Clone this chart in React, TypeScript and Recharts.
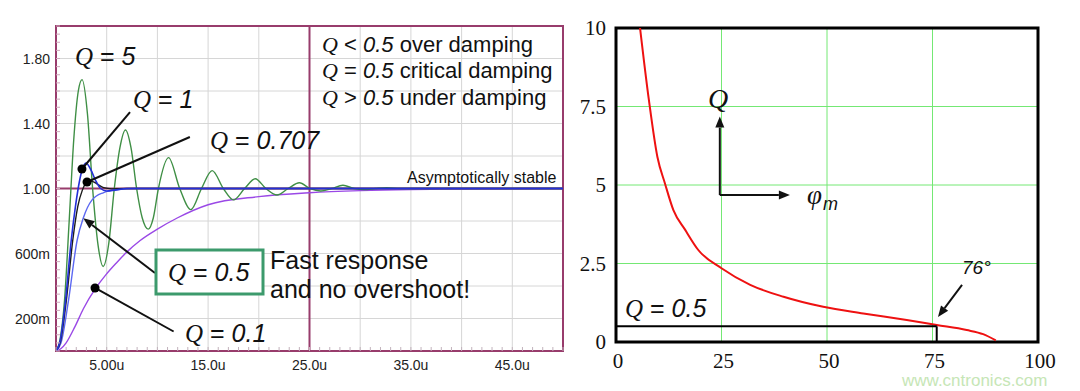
import React from 'react';
import { LineChart, Line, XAxis, YAxis, CartesianGrid, ReferenceLine, ReferenceDot, ReferenceArea } from 'recharts';

// step responses (time in µs, output in V)
const q5Time = [0, 0.4, 0.84, 1.3, 1.75, 2.2, 2.57, 3.1, 3.61, 4.15, 4.65, 5.2, 5.75, 6.3, 6.85, 7.4, 7.95, 8.5, 9.1, 9.6, 10.1, 11.1, 12.2, 13.3, 14.35, 15.4, 16.5, 17.5, 18.6, 19.65, 20.7, 21.8, 22.9, 24.0, 25.05, 26.1, 27.2, 28.3, 29.4, 30.4, 31.5, 32.6, 34, 40, 50];
const q5Value = [0, 0.07, 0.31, 0.8, 1.3, 1.6, 1.67, 1.46, 1.0, 0.65, 0.52, 0.66, 1.0, 1.25, 1.36, 1.25, 1.0, 0.82, 0.75, 0.82, 1.0, 1.19, 1.0, 0.87, 1.0, 1.11, 1.0, 0.93, 1.0, 1.06, 1.0, 0.96, 1.0, 1.035, 1.0, 0.985, 1.0, 1.02, 1.0, 0.993, 1.0, 1.005, 1.0, 1.0, 1.0];

const q1Time = [0, 0.4, 0.94, 1.5, 1.92, 2.3, 2.6, 2.95, 3.4, 3.9, 4.4, 5.0, 5.8, 7, 50];
const q1Value = [0, 0.06, 0.31, 0.68, 0.89, 1.04, 1.12, 1.157, 1.12, 1.05, 1.0, 0.985, 0.99, 1.0, 1.0];

const q0707Time = [0, 0.45, 1.0, 1.65, 2.15, 2.6, 3.07, 3.5, 4.0, 4.7, 5.5, 7, 50];
const q0707Value = [0, 0.06, 0.3, 0.68, 0.89, 0.99, 1.04, 1.045, 1.03, 1.005, 0.998, 1.0, 1.0];

const q05Time = [0, 0.5, 1.23, 2.08, 2.7, 3.56, 4.7, 6, 8, 50];
const q05Value = [0, 0.05, 0.31, 0.68, 0.82, 0.93, 0.975, 0.993, 1.0, 1.0];

const q01Time = [0, 0.5, 1.0, 1.87, 2.7, 3.9, 4.93, 6, 7, 8.3, 10, 12, 15, 20, 25, 30, 35, 40, 50];
const q01Value = [0, 0.015, 0.05, 0.15, 0.26, 0.385, 0.47, 0.545, 0.61, 0.68, 0.75, 0.82, 0.9, 0.95, 0.974, 0.987, 0.994, 0.997, 1.0];

// Q versus phase margin (degrees) from the right plot
const phaseMargin = [5.7, 7.8, 9.8, 11.6, 13.6, 16.4, 19.5, 25, 31.8, 39.7, 49.1, 58.6, 68.9, 76, 83.1, 87, 90];
const qFactor = [10, 7.7, 5.9, 5.05, 4.2, 3.57, 2.93, 2.35, 1.82, 1.44, 1.12, 0.91, 0.7, 0.54, 0.38, 0.25, 0.05];

const timeLabels: Record<number, string> = { 5: '5.00u', 15: '15.0u', 25: '25.0u', 35: '35.0u', 45: '45.0u' };
const voltLabels: Record<number, string> = { 20: '200m', 60: '600m', 100: '1.00', 140: '1.40', 180: '1.80' };
const timeGrid = [5, 10, 15, 20, 30, 35, 40, 45];
const voltGrid = [0.2, 0.4, 0.6, 0.8, 1.2, 1.4, 1.6, 1.8];
const phaseTicks = [0, 25, 50, 75, 100];
const qTicks = [0, 2.5, 5, 7.5, 10];

const timeMinor = Array.from({ length: 51 }, (_, i) => i);
const voltMinor = Array.from({ length: 41 }, (_, i) => i * 0.05);

const toPoints = (t: number[], v: number[]) => t.map((x, i) => ({ t: x, v: v[i] }));

const SANS = '"Liberation Sans", Arial, sans-serif';
const SERIF = '"Liberation Serif", "Times New Roman", serif';
const MAROON = '#983c6c';

const LeftXTick = (props: any) => {
  const { x, y, payload } = props;
  const label = timeLabels[Math.round(payload.value)];
  return (
    <g>
      <line x1={x} y1={y - 4} x2={x} y2={y} stroke="#c2b2bc" />
      {label && (
        <text x={x} y={y + 19} textAnchor="middle" fontSize={14} fill="#222" fontFamily={SANS}>{label}</text>
      )}
    </g>
  );
};

const LeftYTick = (props: any) => {
  const { x, y, payload } = props;
  const label = voltLabels[Math.round(payload.value * 100)];
  return (
    <g>
      <line x1={x} y1={y} x2={x + 4} y2={y} stroke="#cfa8bc" />
      {label && (
        <text x={x - 6} y={y + 5} textAnchor="end" fontSize={14} fill="#222" fontFamily={SANS}>{label}</text>
      )}
    </g>
  );
};

const RightXTick = (props: any) => {
  const { x, y, payload } = props;
  return <text x={x + 2} y={y + 26} textAnchor="middle" fontSize={21} fill="#111" fontFamily={SERIF}>{payload.value}</text>;
};

const RightYTick = (props: any) => {
  const { x, y, payload } = props;
  return <text x={x - 10} y={y + 7} textAnchor="end" fontSize={21} fill="#111" fontFamily={SERIF}>{payload.value}</text>;
};

const arrowShape = (props: any) => {
  const { x1, y1, x2, y2 } = props;
  const ang = Math.atan2(y2 - y1, x2 - x1);
  const len = 11;
  const half = 4.5;
  const bx = x2 - len * Math.cos(ang);
  const by = y2 - len * Math.sin(ang);
  const px = -Math.sin(ang) * half;
  const py = Math.cos(ang) * half;
  return (
    <g>
      <line x1={x1} y1={y1} x2={bx} y2={by} stroke="#111" strokeWidth={2} />
      <polygon points={`${x2},${y2} ${bx + px},${by + py} ${bx - px},${by - py}`} fill="#111" />
    </g>
  );
};

const QText = ({ x, y, size, rel = '=', value }: { x: number; y: number; size: number; rel?: string; value: string }) => (
  <text x={x} y={y} fontSize={size} fill="#111" fontFamily={SANS} style={{ whiteSpace: 'pre' }}>
    <tspan fontFamily={SERIF} fontStyle="italic">Q</tspan>
    <tspan>{` ${rel} `}</tspan>
    <tspan fontStyle="italic">{value}</tspan>
  </text>
);

const StepResponse = () => (
  <LineChart width={570} height={391} margin={{ top: 26, right: 7, bottom: 0, left: 0 }}>
    <CartesianGrid stroke="#d6d6d6" horizontalValues={voltGrid} verticalValues={timeGrid} />
    <CartesianGrid stroke={MAROON} strokeWidth={2} horizontalValues={[1]} verticalValues={[25]} />
    <XAxis type="number" dataKey="t" domain={[0, 50]} ticks={timeMinor} interval={0} height={40}
      tickSize={0} tickMargin={0} tickLine={false} axisLine={false} tick={<LeftXTick />} allowDataOverflow />
    <YAxis type="number" domain={[0, 2]} ticks={voltMinor} interval={0} width={56}
      tickSize={0} tickMargin={0} tickLine={false} axisLine={false} tick={<LeftYTick />} allowDataOverflow />
    <Line data={toPoints(q01Time, q01Value)} dataKey="v" type="monotone" stroke="#9a48e6" strokeWidth={1.4} dot={false} activeDot={false} isAnimationActive={false} />
    <Line data={toPoints(q5Time, q5Value)} dataKey="v" type="monotone" stroke="#3f8f45" strokeWidth={1.4} dot={false} activeDot={false} isAnimationActive={false} />
    <Line data={toPoints(q05Time, q05Value)} dataKey="v" type="monotone" stroke="#5c68f2" strokeWidth={1.4} dot={false} activeDot={false} isAnimationActive={false} />
    <Line data={toPoints(q0707Time, q0707Value)} dataKey="v" type="monotone" stroke="#1c1c1c" strokeWidth={1.4} dot={false} activeDot={false} isAnimationActive={false} />
    <Line data={toPoints(q1Time, q1Value)} dataKey="v" type="monotone" stroke="#2430d8" strokeWidth={1.6} dot={false} activeDot={false} isAnimationActive={false} />
    <ReferenceArea x1={0} x2={50} y1={0} y2={2} fill="none" stroke={MAROON} strokeWidth={2} />
    <ReferenceLine segment={[{ x: 2.56, y: 1.12 }, { x: 7.3, y: 1.47 }]} stroke="#111" strokeWidth={2} />
    <ReferenceLine segment={[{ x: 3.06, y: 1.04 }, { x: 13.2, y: 1.317 }]} stroke="#111" strokeWidth={2} />
    <ReferenceLine segment={[{ x: 9.76, y: 0.48 }, { x: 2.7, y: 0.817 }]} shape={arrowShape} />
    <ReferenceLine segment={[{ x: 3.85, y: 0.388 }, { x: 11.6, y: 0.12 }]} stroke="#111" strokeWidth={2} />
    <ReferenceDot x={2.56} y={1.12} r={4.5} fill="#000" stroke="none" />
    <ReferenceDot x={3.06} y={1.04} r={4.5} fill="#000" stroke="none" />
    <ReferenceDot x={3.85} y={0.388} r={4.5} fill="#000" stroke="none" />
  </LineChart>
);

const PhaseMarginChart = () => (
  <LineChart width={510} height={391} margin={{ top: 28, right: 42, bottom: 0, left: 0 }}>
    <CartesianGrid stroke="#74e874" horizontalValues={[2.5, 5, 7.5]} verticalValues={[25, 50, 75]} />
    <XAxis type="number" dataKey="phi" domain={[0, 100]} ticks={phaseTicks} interval={0} height={49}
      tickSize={0} tickMargin={0} tickLine={false} axisLine={false} tick={<RightXTick />} />
    <YAxis type="number" domain={[0, 10]} ticks={qTicks} interval={0} width={46}
      tickSize={0} tickMargin={0} tickLine={false} axisLine={false} tick={<RightYTick />} />
    <Line data={phaseMargin.map((p, i) => ({ phi: p, q: qFactor[i] }))} dataKey="q" type="monotone"
      stroke="#ee1111" strokeWidth={2} dot={false} activeDot={false} isAnimationActive={false} />
    <ReferenceLine segment={[{ x: 0, y: 0.5 }, { x: 76, y: 0.5 }]} stroke="#000" strokeWidth={2} />
    <ReferenceLine segment={[{ x: 76, y: 0 }, { x: 76, y: 0.5 }]} stroke="#000" strokeWidth={2} />
    <ReferenceLine segment={[{ x: 24.6, y: 4.68 }, { x: 24.6, y: 7.18 }]} shape={arrowShape} />
    <ReferenceLine segment={[{ x: 24.6, y: 4.68 }, { x: 41.2, y: 4.68 }]} shape={arrowShape} />
    <ReferenceLine segment={[{ x: 82, y: 1.82 }, { x: 76.3, y: 0.8 }]} shape={arrowShape} />
    <ReferenceArea x1={0} x2={100} y1={0} y2={10} fill="none" stroke="#000" strokeWidth={3} />
  </LineChart>
);

export default function App() {
  return (
    <div style={{ position: 'absolute', left: 0, top: 0, width: 1080, height: 391, background: '#fff', overflow: 'hidden' }}>
      <div style={{ position: 'absolute', left: 0, top: 0 }}>
        <StepResponse />
      </div>
      <div style={{ position: 'absolute', left: 570, top: 0 }}>
        <PhaseMarginChart />
      </div>
      <svg width={1080} height={391} style={{ position: 'absolute', left: 0, top: 0, pointerEvents: 'none' }}>
        {/* left plot annotations */}
        <QText x={75} y={65} size={25} value="5" />
        <QText x={133} y={108} size={25} value="1" />
        <QText x={210} y={149} size={25} value="0.707" />
        <g fontSize={22} fontFamily={SANS} fill="#111">
          <text x={322} y={52} style={{ whiteSpace: 'pre' }}>
            <tspan fontFamily={SERIF} fontStyle="italic">Q</tspan> {'< '}<tspan fontStyle="italic">0.5</tspan> over damping
          </text>
          <text x={322} y={78} style={{ whiteSpace: 'pre' }}>
            <tspan fontFamily={SERIF} fontStyle="italic">Q</tspan> {'= '}<tspan fontStyle="italic">0.5</tspan> critical damping
          </text>
          <text x={322} y={105} style={{ whiteSpace: 'pre' }}>
            <tspan fontFamily={SERIF} fontStyle="italic">Q</tspan> {'> '}<tspan fontStyle="italic">0.5</tspan> under damping
          </text>
        </g>
        <text x={407} y={183} fontSize={16} fontFamily={SANS} fill="#111">Asymptotically stable</text>
        <rect x={156} y={250} width={107} height={44} fill="#fff" stroke="#3c9a6c" strokeWidth={3} />
        <QText x={168} y={281} size={25} value="0.5" />
        <text x={270} y={269} fontSize={25} fontFamily={SANS} fill="#111">Fast response</text>
        <text x={270} y={298} fontSize={25} fontFamily={SANS} fill="#111">and no overshoot!</text>
        <QText x={185} y={342} size={25} value="0.1" />

        {/* right plot annotations */}
        <text x={718} y={108} fontSize={28} fontFamily={SERIF} fontStyle="italic" textAnchor="middle" fill="#111">Q</text>
        <text x={807} y={204} fontSize={27} fontFamily={SERIF} fontStyle="italic" fill="#111">φ</text>
        <text x={823} y={210} fontSize={18} fontFamily={SANS} fontStyle="italic" fill="#111">m</text>
        <QText x={625} y={317} size={25} value="0.5" />
        <text x={962} y={274} fontSize={19} fontFamily={SANS} fontStyle="italic" fill="#111">76°</text>
        <text x={902} y={386} fontSize={17} fontFamily={SANS} fill="#c6e6b6">www.cntronics.com</text>
      </svg>
    </div>
  );
}
